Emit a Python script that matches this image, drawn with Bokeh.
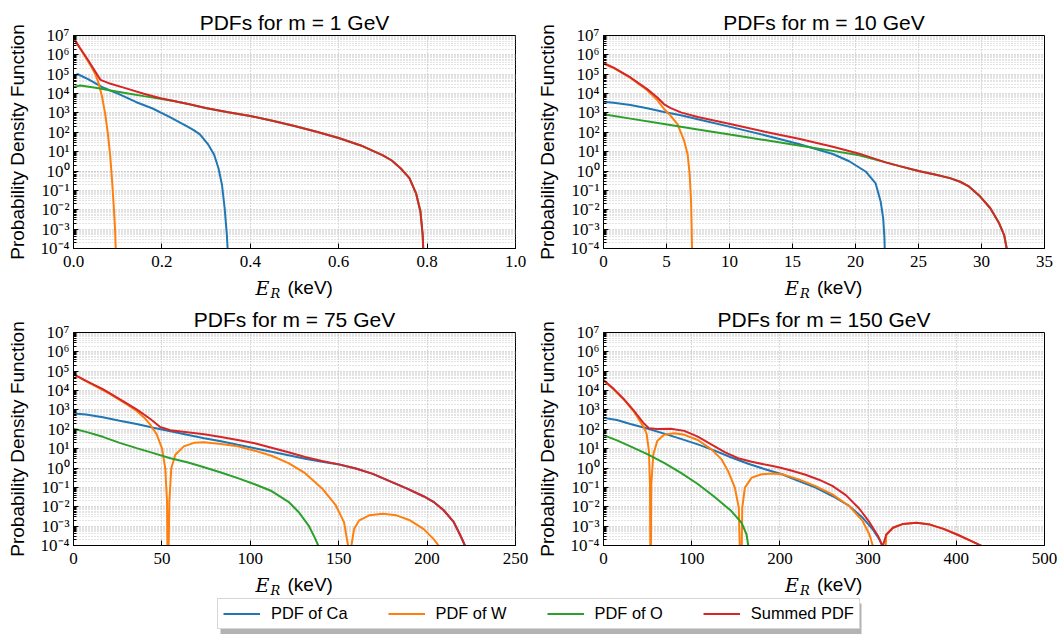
from bokeh.core.properties import value
from bokeh.embed import file_html
from bokeh.layouts import column, row
from bokeh.models import CustomJSTickFormatter, FixedTicker, Legend, LegendItem, Range1d
from bokeh.plotting import figure
from bokeh.resources import INLINE

# ---------------------------------------------------------------------------
# Recoil-energy spectra (E_R in keV, probability density) for each target
# nucleus and the summed spectrum, for four dark-matter masses.
# ---------------------------------------------------------------------------

# m = 1 GeV
ca_1_x = [0, 0.01, 0.034, 0.064, 0.103, 0.141, 0.179, 0.217, 0.256, 0.272, 0.286, 0.305, 0.318, 0.328, 0.336, 0.342, 0.347, 0.351]
ca_1_y = [8.3e4, 1.0e5, 5.4e4, 2.2e4, 9.3e3, 3.7e3, 1.7e3, 6.2e2, 2.1e2, 1.3e2, 78, 23, 7.1, 1.4, 0.19, 1.2e-2, 4.9e-4, 1e-5]
w_1_x = [0, 0.01, 0.02, 0.03, 0.04, 0.05, 0.058, 0.065, 0.072, 0.078, 0.083, 0.087, 0.091, 0.094, 0.097]
w_1_y = [7.4e6, 3.2e6, 1.4e6, 6.0e5, 2.5e5, 9.5e4, 2.8e4, 6.3e3, 7.9e2, 79, 6.3, 0.4, 1.6e-2, 1e-3, 1e-5]
o_1_x = [0, 0.015, 0.05, 0.084, 0.12, 0.159, 0.2, 0.227, 0.265, 0.3, 0.35, 0.4, 0.45, 0.5, 0.55, 0.6, 0.65, 0.7, 0.72, 0.74, 0.76, 0.775, 0.785, 0.79, 0.793]
o_1_y = [2.2e4, 2.6e4, 2.0e4, 1.45e4, 1.05e4, 7.4e3, 5.2e3, 4.1e3, 2.7e3, 1.74e3, 1.1e3, 6.9e2, 4.0e2, 2.1e2, 1.07e2, 51, 21, 6.5, 3.5, 1.4, 0.43, 7.1e-2, 7.9e-3, 5e-4, 1e-5]
sum_1_x = [0, 0.015, 0.031, 0.046, 0.061, 0.084, 0.121, 0.159, 0.197, 0.235, 0.265, 0.3, 0.35, 0.4, 0.45, 0.5, 0.55, 0.6, 0.65, 0.7, 0.72, 0.74, 0.76, 0.775, 0.785, 0.79, 0.793]
sum_1_y = [7.6e6, 2.2e6, 6.3e5, 1.8e5, 5.1e4, 3.2e4, 1.8e4, 9.8e3, 5.8e3, 3.8e3, 2.75e3, 1.8e3, 1.1e3, 6.9e2, 4.0e2, 2.1e2, 1.07e2, 51, 21, 6.5, 3.5, 1.4, 0.43, 7.1e-2, 7.9e-3, 5e-4, 1e-5]

# m = 10 GeV
ca_10_x = [0, 0.8, 2.14, 3.47, 4.81, 6.14, 7.48, 10.15, 12.8, 15.5, 18.2, 19.5, 20.8, 21.6, 22.0, 22.2, 22.3, 22.35]
ca_10_y = [3.8e3, 3.4e3, 2.6e3, 1.74e3, 1.12e3, 7.6e2, 4.7e2, 1.86e2, 71, 25, 7.6, 3.2, 0.95, 0.23, 2.6e-2, 3.5e-3, 3.2e-4, 1e-5]
w_10_x = [0, 0.8, 2.14, 3.47, 4.27, 4.81, 5.34, 5.88, 6.41, 6.68, 6.84, 6.95, 7.0, 7.05]
w_10_y = [3.5e5, 2.1e5, 6.5e4, 1.5e4, 4.6e3, 1.6e3, 7.1e2, 2.6e2, 35, 7.1, 0.65, 2.6e-2, 1e-3, 1e-5]
o_10_x = [0, 2.14, 4.81, 7.48, 10.15, 12.8, 15.5, 18.2, 20.3, 22.4, 23.5, 25.0, 26.3, 27.5, 28.3, 29.0, 29.9, 30.7, 31.4, 31.8, 32.0, 32.1]
o_10_y = [8.5e2, 5.1e2, 2.7e2, 1.41e2, 74, 40, 21, 11, 6.6, 2.8, 1.8, 1.0, 0.66, 0.43, 0.28, 0.16, 4.8e-2, 1.2e-2, 2.0e-3, 4.9e-4, 1e-4, 1e-5]
sum_10_x = [0, 0.8, 2.14, 3.47, 4.27, 4.81, 5.34, 6.14, 7.48, 10.15, 12.8, 15.5, 18.2, 20.3, 22.4, 23.5, 25.0, 26.3, 27.5, 28.3, 29.0, 29.9, 30.7, 31.4, 31.8, 32.0, 32.1]
sum_10_y = [3.8e5, 2.2e5, 6.8e4, 1.7e4, 6.3e3, 2.8e3, 1.78e3, 1.07e3, 6.2e2, 2.6e2, 1.07e2, 47, 18, 7.9, 2.8, 1.8, 1.0, 0.66, 0.43, 0.28, 0.16, 4.8e-2, 1.2e-2, 2.0e-3, 4.9e-4, 1e-4, 1e-5]

# m = 75 GeV
ca_75_x = [0, 7.1, 16.6, 26.1, 35.7, 45.2, 54.8, 64.3, 73.9, 83.4, 92.9, 102.5, 112, 121.6, 131, 140.6, 150.2, 159.7, 169.3, 178.8, 188.4, 197.9, 203.6, 209.4, 215.1, 218.9, 221.4, 222.5]
ca_75_y = [6.5e2, 5.9e2, 4.2e2, 2.8e2, 1.86e2, 1.2e2, 79, 52, 35, 24, 15.8, 10.5, 6.9, 4.6, 3.0, 2.14, 1.51, 0.95, 0.5, 0.21, 8.9e-2, 3.5e-2, 1.8e-2, 6.6e-3, 1.6e-3, 3.2e-4, 1e-4, 1e-5]
w_75_x = [0, 10, 20, 30, 35.7, 40, 43.3, 47.1, 50, 51.9, 52.9, 53.4, 54.2, 55.3, 57.6, 62.4, 68.1, 73.9, 83.4, 92.9, 102.5, 112, 121.6, 131, 140.6, 148.3, 153, 155.3, 156.2, 157.2, 158.7, 161.6, 167.3, 174.9, 182.6, 190.3, 197.9, 203.6, 206.5, 208]
w_75_y = [6.8e4, 2.2e4, 7.1e3, 2.0e3, 8.9e2, 4.0e2, 1.8e2, 54, 10.7, 0.98, 1.8e-2, 1e-7, 1.8e-2, 0.98, 4.9, 13.2, 20, 21.4, 17.4, 13.2, 7.9, 4.3, 1.8, 0.54, 8.9e-2, 1.2e-2, 1.6e-3, 1e-4, 1e-7, 1e-4, 7.2e-4, 2.0e-3, 3.6e-3, 4.4e-3, 3.6e-3, 2.0e-3, 7.2e-4, 2.2e-4, 1e-4, 1e-5]
o_75_x = [0, 7.1, 16.6, 26.1, 35.7, 45.2, 54.8, 64.3, 73.9, 83.4, 92.9, 102.5, 112, 121.6, 127.3, 133, 136.8, 138.4, 139]
o_75_y = [1.07e2, 74, 41, 20, 10.7, 5.9, 3.2, 2.0, 1.1, 0.59, 0.3, 0.145, 6.5e-2, 1.8e-2, 5.4e-3, 1.07e-3, 2.2e-4, 1e-4, 1e-5]
sum_75_x = [0, 7.1, 16.6, 26.1, 35.7, 43.3, 49.0, 54.8, 64.3, 73.9, 83.4, 92.9, 102.5, 112, 121.6, 131, 140.6, 150.2, 159.7, 169.3, 178.8, 188.4, 197.9, 203.6, 209.4, 215.1, 218.9, 221.4, 222.5]
sum_75_y = [7.1e4, 3.2e4, 1.2e4, 3.6e3, 1.07e3, 3.5e2, 1.32e2, 89, 71, 56, 40, 28, 19, 11.2, 6.5, 3.7, 2.3, 1.55, 0.95, 0.5, 0.21, 8.9e-2, 3.5e-2, 1.8e-2, 6.6e-3, 1.6e-3, 3.2e-4, 1e-4, 1e-5]

# m = 150 GeV
ca_150_x = [0, 15.3, 30.5, 49.6, 68.7, 87.8, 106.9, 126, 145, 164.1, 183.2, 202.3, 221.4, 240.5, 259.5, 278.6, 293.9, 305.3, 313, 316.5, 318]
ca_150_y = [3.9e2, 3.0e2, 1.9e2, 1.1e2, 60, 32, 16.6, 7.9, 3.5, 1.66, 0.87, 0.48, 0.21, 9.8e-2, 3.6e-2, 1.1e-2, 2.7e-3, 6.8e-4, 2.0e-4, 8.9e-5, 1e-5]
w_150_x = [0, 11.5, 22.9, 34.4, 45.8, 48.9, 51.5, 52.7, 53.4, 54.2, 56.5, 61.1, 68.7, 80.2, 91.6, 106.9, 122.1, 133.6, 141.2, 148.9, 153.4, 156.0, 157.3, 160.3, 168, 179.4, 190.8, 202.3, 221.4, 240.5, 259.5, 278.6, 293.9, 301.5, 305.3, 316.5, 320.6, 328.2, 339.7, 355, 370.2, 385.5, 400.8, 416, 427.5, 440]
w_150_y = [3.3e4, 1.17e4, 3.5e3, 8.3e2, 1.26e2, 58, 7.8, 0.145, 1e-7, 0.145, 5.2, 26, 52, 62, 52, 28, 9.5, 2.9, 0.71, 9.8e-2, 8.9e-3, 1e-7, 8.9e-3, 9.8e-2, 0.32, 0.48, 0.52, 0.48, 0.26, 0.117, 4.4e-2, 1.1e-2, 1.8e-3, 3.7e-4, 1e-4, 1e-7, 3.5e-4, 8.3e-4, 1.3e-3, 1.5e-3, 1.2e-3, 7.2e-4, 3.7e-4, 1.8e-4, 1e-4, 5e-5]
o_150_x = [0, 15.3, 30.5, 49.6, 68.7, 87.8, 106.9, 126, 145, 156.5, 162.2, 164.1, 165]
o_150_y = [50, 27, 13.2, 5.2, 1.86, 0.56, 0.15, 3.2e-2, 6.0e-3, 1.5e-3, 3.7e-4, 1e-4, 1e-5]
sum_150_x = [0, 11.5, 22.9, 34.4, 45.8, 51.5, 61.1, 76.3, 91.6, 106.9, 122.1, 137.4, 152.7, 168, 183.2, 198.5, 213.7, 229, 244.3, 259.5, 274.8, 290.1, 301.5, 311.1, 316.5, 320.6, 328.2, 339.7, 355, 370.2, 385.5, 400.8, 416, 427.5, 440]
sum_150_y = [3.5e4, 1.23e4, 3.7e3, 9.3e2, 2.0e2, 1.15e2, 1.05e2, 1.07e2, 83, 42, 16.6, 6.6, 3.2, 2.1, 1.51, 1.1, 0.72, 0.45, 0.25, 0.12, 4.0e-2, 7.9e-3, 1.6e-3, 3.2e-4, 8.9e-5, 3.7e-4, 8.3e-4, 1.3e-3, 1.5e-3, 1.2e-3, 7.2e-4, 3.7e-4, 1.8e-4, 1e-4, 5e-5]

# Panel settings: mass label, x extent and x tick positions / labels
masses = ["1", "10", "75", "150"]
x_ends = [1.0, 35, 250, 500]
x_ticks = [
    [0.0, 0.2, 0.4, 0.6, 0.8, 1.0],
    [0, 5, 10, 15, 20, 25, 30, 35],
    [0, 50, 100, 150, 200, 250],
    [0, 100, 200, 300, 400, 500],
]
x_tick_labels = [
    ["0.0", "0.2", "0.4", "0.6", "0.8", "1.0"],
    ["0", "5", "10", "15", "20", "25", "30", "35"],
    ["0", "50", "100", "150", "200", "250"],
    ["0", "100", "200", "300", "400", "500"],
]
y_major = [10.0 ** k for k in range(-4, 8)]
y_minor = [m * 10.0 ** k for k in range(-4, 7) for m in range(2, 10)]

series_names = ["PDF of Ca", "PDF of W", "PDF of O", "Summed PDF"]
series_colors = ["#1f77b4", "#ff7f0e", "#2ca02c", "#d62728"]
curves = [
    [(ca_1_x, ca_1_y), (w_1_x, w_1_y), (o_1_x, o_1_y), (sum_1_x, sum_1_y)],
    [(ca_10_x, ca_10_y), (w_10_x, w_10_y), (o_10_x, o_10_y), (sum_10_x, sum_10_y)],
    [(ca_75_x, ca_75_y), (w_75_x, w_75_y), (o_75_x, o_75_y), (sum_75_x, sum_75_y)],
    [(ca_150_x, ca_150_y), (w_150_x, w_150_y), (o_150_x, o_150_y), (sum_150_x, sum_150_y)],
]

SANS = "Liberation Sans"
SERIF = "Liberation Serif"
MATH = "DejaVu Serif"
PAGE_W = 1058

# horizontal centres of the plot frames (pixels): left frames 73-515, right 603-1044
panel_centres = [294, 823.5, 294, 823.5]

power_formatter = CustomJSTickFormatter(code="""
    const sup = {"-": "\u207b", "0": "\u2070", "1": "\u00b9", "2": "\u00b2", "3": "\u00b3",
                 "4": "\u2074", "5": "\u2075", "6": "\u2076", "7": "\u2077", "8": "\u2078", "9": "\u2079"};
    const e = Math.round(Math.log10(tick));
    return "10" + String(e).split("").map((c) => sup[c]).join("");
""")


def strip(height):
    """A borderless full-width canvas whose data units are pixels (y up)."""
    s = figure(width=PAGE_W, height=height, x_range=Range1d(0, PAGE_W), y_range=Range1d(0, height),
               output_backend="svg", toolbar_location=None,
               min_border_left=0, min_border_right=0, min_border_top=0, min_border_bottom=0)
    s.axis.visible = False
    s.grid.visible = False
    s.outline_line_color = None
    s.background_fill_color = "white"
    s.border_fill_color = "white"
    return s


def put(s, x, base, txt, font, size, style="normal", align="left"):
    # base: height of the text baseline above the strip's bottom edge;
    # the glyph is anchored on the middle of its em box
    s.text(x=[x], y=[base + 0.345 * size], text=[txt], text_font=value(font),
           text_font_size=value(f"{size}px"), text_font_style=style, text_align=align,
           text_baseline="middle", text_color="black")


def add_xlabel(s, i, base):
    c = panel_centres[i]
    put(s, c - 39, base, "E", MATH, 19, style="italic")
    put(s, c - 24, base - 3, "R", MATH, 13, style="italic")
    put(s, c - 7, base, "(keV)", SANS, 19)


def make_panel(i, width, right, height, top):
    p = figure(width=width, height=height, x_range=Range1d(0, x_ends[i]), y_range=Range1d(1e-4, 1e7),
               y_axis_type="log", output_backend="svg", toolbar_location=None,
               min_border_left=73, min_border_right=right, min_border_top=top, min_border_bottom=27)
    p.background_fill_color = "white"
    p.border_fill_color = "white"
    p.outline_line_color = "black"
    p.outline_line_width = 1
    p.outline_line_alpha = 1

    p.title.text = f"PDFs for m = {masses[i]} GeV"
    p.title.align = "center"
    p.title.text_font = SANS
    p.title.text_font_size = "21px"
    p.title.text_font_style = "normal"
    p.title.text_color = "black"
    p.title.standoff = 3

    p.yaxis.ticker = FixedTicker(ticks=y_major, minor_ticks=y_minor)
    p.yaxis.formatter = power_formatter
    p.xaxis.ticker = FixedTicker(ticks=x_ticks[i])
    p.xaxis.formatter = CustomJSTickFormatter(
        args=dict(tick_values=x_ticks[i], tick_texts=x_tick_labels[i]),
        code="const k = tick_values.findIndex((t) => Math.abs(t - tick) < 1e-9); return k >= 0 ? tick_texts[k] : '';")

    for ax in (p.xaxis, p.yaxis):
        ax.axis_line_color = "black"
        ax.major_tick_line_color = "black"
        ax.major_tick_in = 5
        ax.major_tick_out = 0
        ax.major_label_text_font = SERIF
        ax.major_label_text_font_size = "17px"
        ax.major_label_text_color = "black"
    p.xaxis.minor_tick_line_color = None
    p.xaxis.major_label_standoff = 7
    p.yaxis.minor_tick_line_color = "black"
    p.yaxis.minor_tick_in = 3
    p.yaxis.minor_tick_out = 0
    p.yaxis.major_label_standoff = 4
    p.yaxis.axis_label = "Probability Density Function"
    p.yaxis.axis_label_text_font = SANS
    p.yaxis.axis_label_text_font_size = "19px"
    p.yaxis.axis_label_text_font_style = "normal"
    p.yaxis.axis_label_text_color = "black"
    p.yaxis.axis_label_standoff = 10

    p.xgrid.grid_line_color = "#b4b4b4"
    p.xgrid.grid_line_dash = "1 2"
    p.ygrid.grid_line_color = "#b4b4b4"
    p.ygrid.grid_line_dash = "1 2"
    p.ygrid.minor_grid_line_color = "#c8c8c8"
    p.ygrid.minor_grid_line_dash = "1 2"

    for (xs, ys), color in zip(curves[i], series_colors):
        p.line(xs, ys, line_color=color, line_width=2)
    return p


p1 = make_panel(0, 530, 15, 275, 35)
p2 = make_panel(1, 528, 14, 275, 35)
p3 = make_panel(2, 530, 15, 272, 32)
p4 = make_panel(3, 528, 14, 272, 32)

# x-axis labels of the upper panels
mid_strip = strip(25)
add_xlabel(mid_strip, 0, 6)
add_xlabel(mid_strip, 1, 6)

# x-axis labels of the lower panels and the shared legend
bottom_strip = strip(63)
add_xlabel(bottom_strip, 2, 44)
add_xlabel(bottom_strip, 3, 44)
bottom_strip.quad(left=[220], right=[861], bottom=[1.5], top=[32], fill_color="#9a9a9a",
                  line_color=None, fill_alpha=0.75)
items = []
for name, color in zip(series_names, series_colors):
    r = bottom_strip.line([-50, -40], [-50, -50], line_color=color, line_width=2)
    items.append(LegendItem(label=name, renderers=[r]))
legend = Legend(items=items, location=(217, 6), orientation="horizontal",
                label_text_font=SANS, label_text_font_size="16.4px", label_text_color="black",
                glyph_width=37, glyph_height=19, label_height=19, label_standoff=11,
                spacing=40, padding=5, margin=0,
                border_line_color="#b0b0b0", border_line_width=1, background_fill_color="white",
                background_fill_alpha=1)
bottom_strip.add_layout(legend)

layout = column(row(p1, p2), mid_strip, row(p3, p4), bottom_strip)

with open("out.html", "w") as f:
    f.write(file_html(layout, INLINE))
